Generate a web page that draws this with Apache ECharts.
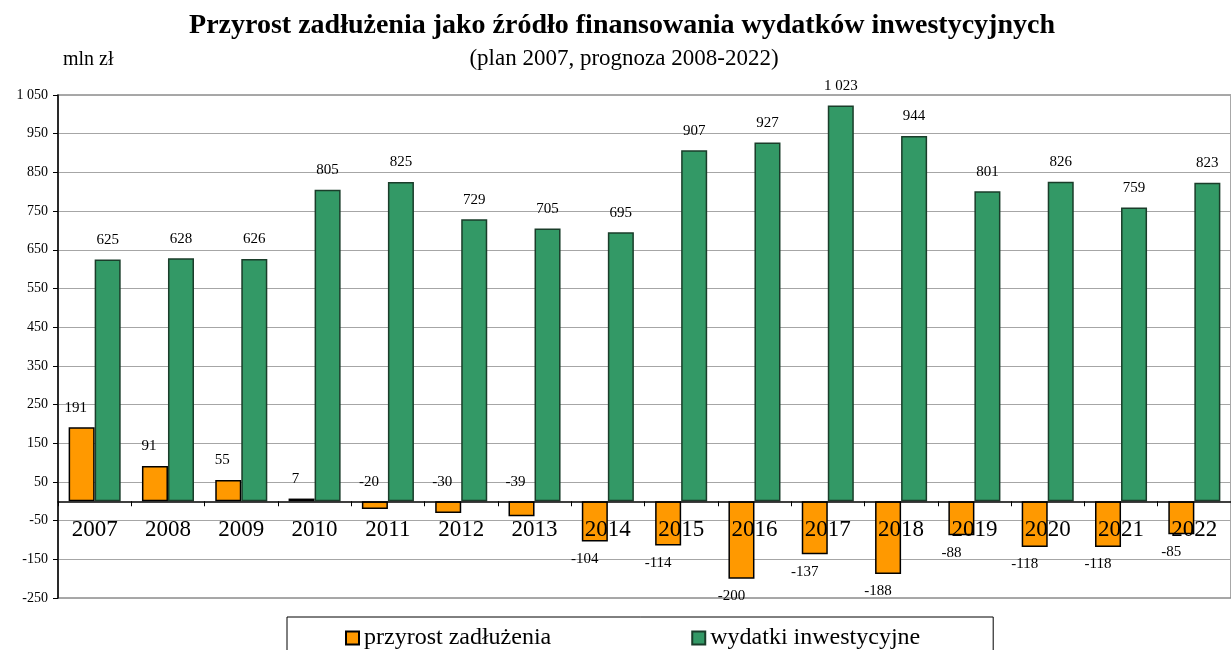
<!DOCTYPE html>
<html>
<head>
<meta charset="utf-8">
<script src="https://cdn.jsdelivr.net/npm/echarts@6/dist/echarts.min.js"></script>
<style>
  html, body { margin: 0; padding: 0; background: #fff; }
  #chart { width: 1231px; height: 650px; }
</style>
</head>
<body>
<div id="chart"></div>
<script>
// dane wykresu
const years = ['2007', '2008', '2009', '2010', '2011', '2012', '2013', '2014', '2015', '2016', '2017', '2018', '2019', '2020', '2021', '2022']
const przyrost = [191, 91, 55, 7, -20, -30, -39, -104, -114, -200, -137, -188, -88, -118, -118, -85]
const wydatki = [625, 628, 626, 805, 825, 729, 705, 695, 907, 927, 1023, 944, 801, 826, 759, 823]
const yMin = -250
const yMax = 1050
const yStep = 100

const FONT = '"Liberation Serif", "Times New Roman", serif'

// układ siatki
const gridTop = 95
const gridBottom = 52
const gridHeight = 650 - gridTop - gridBottom
// oś X ma leżeć na zerze razem z etykietami
const zeroShift = gridHeight * (0 - yMin) / (yMax - yMin)

// 1050 -> "1 050"
function fmt (v) {
  const s = String(Math.abs(v)).replace(/\B(?=(\d{3})+(?!\d))/g, ' ')
  return (v < 0 ? '-' : '') + s
}

const myChart = echarts.init(document.getElementById('chart'))

const option = {
  animation: false,
  textStyle: { fontFamily: FONT, color: '#000' },
  title: [
    {
      text: 'Przyrost zadłużenia jako źródło finansowania wydatków inwestycyjnych',
      left: 622,
      top: 12,
      padding: 0,
      textAlign: 'center',
      textStyle: { fontFamily: FONT, fontSize: 28, fontWeight: 'bold', color: '#000' }
    },
    {
      text: '(plan 2007, prognoza 2008-2022)',
      left: 624,
      top: 47,
      padding: 0,
      textAlign: 'center',
      textStyle: { fontFamily: FONT, fontSize: 23, fontWeight: 'normal', color: '#000' }
    },
    {
      text: 'mln zł',
      left: 63,
      top: 50,
      padding: 0,
      textStyle: { fontFamily: FONT, fontSize: 20, fontWeight: 'normal', color: '#000' }
    }
  ],
  legend: {
    left: 287,
    top: 617,
    padding: [9, 73, 20, 58],
    itemGap: 140,
    itemWidth: 13,
    itemHeight: 13,
    borderColor: '#000',
    borderWidth: 1,
    textStyle: { fontFamily: FONT, fontSize: 24, color: '#000' },
    data: [
      { name: 'przyrost zadłużenia', icon: 'rect' },
      { name: 'wydatki inwestycyjne', icon: 'rect' }
    ]
  },
  grid: {
    left: 58,
    right: -11,
    top: gridTop,
    bottom: gridBottom,
    show: true,
    borderColor: '#8c8c8c',
    borderWidth: 1.5
  },
  xAxis: {
    type: 'category',
    data: years,
    z: 5,
    offset: -zeroShift,
    axisLine: { onZero: false, lineStyle: { color: '#000', width: 1.5 } },
    axisTick: { show: true, length: 5, lineStyle: { color: '#000' } },
    axisLabel: { fontFamily: FONT, fontSize: 23, color: '#000', margin: 17 },
    splitLine: { show: false }
  },
  yAxis: {
    type: 'value',
    min: yMin,
    max: yMax,
    interval: yStep,
    axisLine: { show: true, lineStyle: { color: '#000', width: 1.5 } },
    axisTick: { show: true, length: 5, lineStyle: { color: '#000' } },
    axisLabel: { fontFamily: FONT, fontSize: 14, color: '#000', margin: 10, formatter: fmt },
    splitLine: { show: true, lineStyle: { color: '#a6a6a6', width: 1.2 } }
  },
  series: [
    {
      name: 'przyrost zadłużenia',
      type: 'bar',
      barGap: 0,
      barCategoryGap: '29%',
      itemStyle: { color: '#FF9900', borderColor: '#000', borderWidth: 1.5 },
      label: {
        show: true,
        fontFamily: FONT,
        fontSize: 15,
        color: '#000',
        formatter: p => fmt(p.value)
      },
      data: przyrost.map(v => ({
        value: v,
        label: v > -50
          ? { position: 'top', distance: 12, offset: [-6, 0] }
          : { position: 'bottom', distance: 10, offset: [-10, 0] }
      }))
    },
    {
      name: 'wydatki inwestycyjne',
      type: 'bar',
      barGap: 0,
      barCategoryGap: '29%',
      itemStyle: { color: '#339966', borderColor: '#1a3d2a', borderWidth: 1.5 },
      label: {
        show: true,
        position: 'top',
        distance: 12,
        fontFamily: FONT,
        fontSize: 15,
        color: '#000',
        formatter: p => fmt(p.value)
      },
      data: wydatki
    }
  ]
}

myChart.setOption(option)
</script>
</body>
</html>
